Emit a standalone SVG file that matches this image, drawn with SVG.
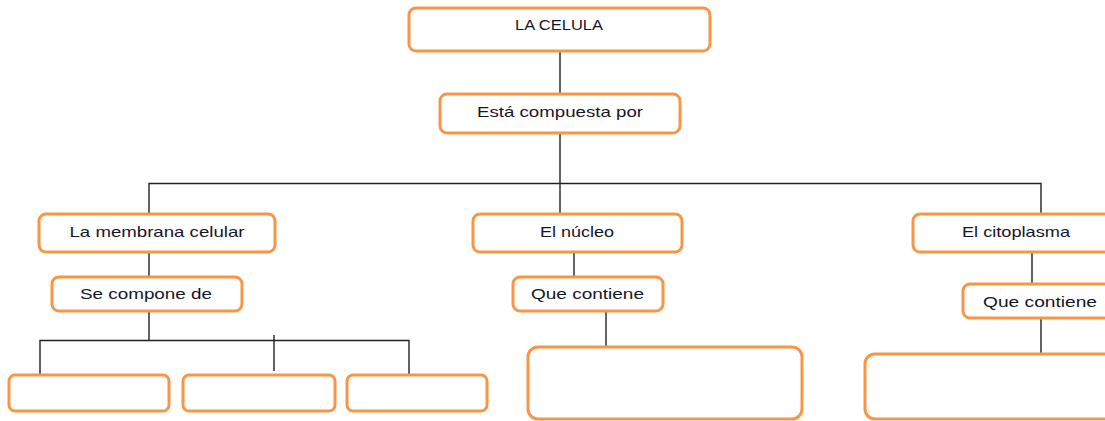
<svg xmlns="http://www.w3.org/2000/svg" width="1105" height="421" viewBox="0 0 1105 421">
<style>
.box{fill:#fff;stroke:#F79646;stroke-width:3}
.lbl{font-family:"Liberation Sans",Arial,sans-serif;font-size:15px;fill:#15152a;text-anchor:middle}
.con{stroke:#222;stroke-width:1.4;fill:none}
</style>
<rect width="1105" height="421" fill="#fff"/>
<g id="connectors">
<path class="con" d="M560 52V94"/>
<path class="con" d="M560 133V214"/>
<path class="con" d="M149 214V183.5H1041V214"/>
<path class="con" d="M149 252V277"/>
<path class="con" d="M149 311V340.5"/>
<path class="con" d="M40 375V340.5H409V375"/>
<path class="con" d="M274 335V371"/>
<path class="con" d="M574 252V277"/>
<path class="con" d="M606 311V347"/>
<path class="con" d="M1032 252V284"/>
<path class="con" d="M1041 318V354"/>
</g>
<g id="n-celula"><rect class="box" x="409" y="8" width="301" height="43" rx="7"/><text class="lbl" x="559" y="30" textLength="88" lengthAdjust="spacingAndGlyphs">LA CELULA</text></g>
<g id="n-compuesta"><rect class="box" x="440" y="94" width="240" height="39" rx="7"/><text class="lbl" x="560" y="117" textLength="166" lengthAdjust="spacingAndGlyphs">Está compuesta por</text></g>
<g id="n-membrana"><rect class="box" x="39" y="214" width="236" height="38" rx="7"/><text class="lbl" x="157" y="237" textLength="175" lengthAdjust="spacingAndGlyphs">La membrana celular</text></g>
<g id="n-secompone"><rect class="box" x="52" y="277" width="190" height="34" rx="7"/><text class="lbl" x="146" y="299" textLength="132" lengthAdjust="spacingAndGlyphs">Se compone de</text></g>
<g id="n-m1"><rect class="box" x="9" y="375" width="160" height="36" rx="6"/></g>
<g id="n-m2"><rect class="box" x="183" y="375" width="152" height="36" rx="6"/></g>
<g id="n-m3"><rect class="box" x="347" y="375" width="140" height="36" rx="6"/></g>
<g id="n-nucleo"><rect class="box" x="473" y="214" width="209" height="38" rx="7"/><text class="lbl" x="577" y="237" textLength="74" lengthAdjust="spacingAndGlyphs">El núcleo</text></g>
<g id="n-quecontiene1"><rect class="box" x="513" y="277" width="150" height="34" rx="7"/><text class="lbl" x="587.5" y="299" textLength="113" lengthAdjust="spacingAndGlyphs">Que contiene</text></g>
<g id="n-nucleo-content"><rect class="box" x="528" y="347" width="274" height="72" rx="10"/></g>
<g id="n-citoplasma"><rect class="box" x="913" y="214" width="210" height="38" rx="7"/><text class="lbl" x="1016" y="237" textLength="108" lengthAdjust="spacingAndGlyphs">El citoplasma</text></g>
<g id="n-quecontiene2"><rect class="box" x="963" y="284" width="160" height="34" rx="7"/><text class="lbl" x="1040" y="307" textLength="114" lengthAdjust="spacingAndGlyphs">Que contiene</text></g>
<g id="n-citoplasma-content"><rect class="box" x="865" y="354" width="260" height="65" rx="10"/></g>
</svg>
